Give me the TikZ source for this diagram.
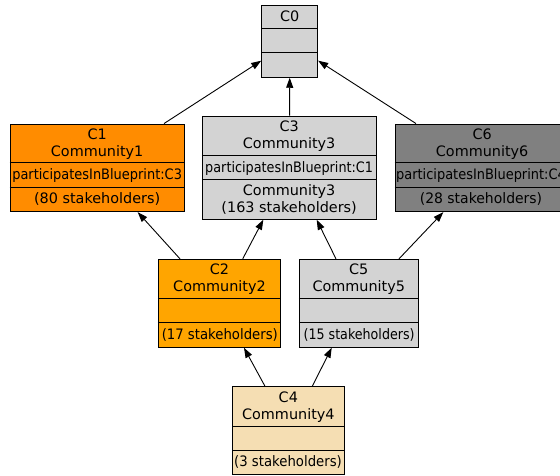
\documentclass[tikz,border=0pt]{standalone}
\usepackage{fontspec}
\usepackage{graphicx}
\setmainfont{DejaVu Sans}
\usetikzlibrary{arrows.meta}
\definecolor{cDarkOrange}{RGB}{255,140,0}
\definecolor{cOrange}{RGB}{255,165,0}
\definecolor{cLight}{RGB}{211,211,211}
\definecolor{cGray}{RGB}{128,128,128}
\definecolor{cWheat}{RGB}{245,222,179}
\tikzset{
  rec/.style={draw=black, line width=0.9pt, rectangle, inner sep=0pt},
  txt/.style={anchor=base, inner sep=0pt, font=\fontsize{14.4}{17}\selectfont},
  divline/.style={draw=black, line width=0.9pt},
  edge/.style={draw=black, line width=0.9pt, -{Triangle[length=10pt,width=7pt]}}
}
\newcommand{\xs}[2]{\scalebox{#1}[1]{#2}}
\begin{document}
\begin{tikzpicture}[x=1pt,y=-1pt]
\useasboundingbox (0,0) rectangle (560,476);
\fill[white] (0,0) rectangle (560,476);
\clip (0,0) rectangle (560,476);

% record boxes
\node[rec, fill=cLight, minimum width=56pt, minimum height=72.3pt] (C0) at (289.7,41.15) {};
\node[rec, fill=cDarkOrange, minimum width=174.3pt, minimum height=87.7pt] (C1) at (97.15,167.85) {};
\node[rec, fill=cLight, minimum width=173.7pt, minimum height=103.3pt] (C3) at (289.15,167.65) {};
\node[rec, fill=cGray, minimum width=174.3pt, minimum height=87.7pt] (C6) at (482.15,167.85) {};
\node[rec, fill=cOrange, minimum width=122.4pt, minimum height=88pt] (C2) at (219.5,303.3) {};
\node[rec, fill=cLight, minimum width=119pt, minimum height=88pt] (C5) at (358.8,303.3) {};
\node[rec, fill=cWheat, minimum width=111.3pt, minimum height=88pt] (C4) at (288.35,430.7) {};

% dividers
\foreach \n/\a/\b in {C0/24.3/48.3, C1/39.3/63.7, C3/39.7/64, C6/39.3/63.7, C2/39.7/63.4, C5/39.7/63.4, C4/40/64}{
  \draw[divline] ([yshift=-\a pt]\n.north west) -- ([yshift=-\a pt]\n.north east);
  \draw[divline] ([yshift=-\b pt]\n.north west) -- ([yshift=-\b pt]\n.north east);
}

% texts
\node[txt] (t0a) at (289.7,21.35) {C0};

\node[txt] (t1a) at (97.15,139.45) {C1};
\node[txt] (t1b) at (97.15,156.25) {Community1};
\node[txt] (t1c) at (97.15,179.7) {\xs{0.90}{participatesInBlueprint:C3}};
\node[txt] (t1d) at (97.15,203.9) {(80 stakeholders)};

\node[txt] (t3a) at (289.15,131.65) {C3};
\node[txt] (t3b) at (289.15,148.45) {Community3};
\node[txt] (t3c) at (289.15,172.05) {\xs{0.89}{participatesInBlueprint:C1}};
\node[txt] (t3d) at (289.15,195.45) {Community3};
\node[txt] (t3e) at (289.15,212.25) {(163 stakeholders)};

\node[txt] (t6a) at (482.15,139.45) {C6};
\node[txt] (t6b) at (482.15,156.25) {Community6};
\node[txt] (t6c) at (481,179.7) {\xs{0.90}{participatesInBlueprint:C4}};
\node[txt] (t6d) at (481,203.9) {\xs{0.97}{(28 stakeholders)}};

\node[txt] (t2a) at (219.5,274.95) {C2};
\node[txt] (t2b) at (219.5,291.75) {Community2};
\node[txt] (t2c) at (219.8,339.2) {\xs{0.92}{(17 stakeholders)}};

\node[txt] (t5a) at (358.8,274.95) {C5};
\node[txt] (t5b) at (358.8,291.75) {Community5};
\node[txt] (t5c) at (359.1,339.2) {\xs{0.88}{(15 stakeholders)}};

\node[txt] (t4a) at (288.35,402.5) {C4};
\node[txt] (t4b) at (288.35,419.3) {Community4};
\node[txt] (t4c) at (288,466.9) {\xs{0.92}{(3 stakeholders)}};

% connectors
\draw[edge] ([xshift=66.85pt]C1.north) -- ([yshift=-19.55pt]C0.west);
\draw[edge] ([xshift=0.5pt]C3.north) -- (C0.south);
\draw[edge] ([xshift=-66.15pt]C6.north) -- ([yshift=-19.55pt]C0.east);
\draw[edge] ([xshift=-39.5pt]C2.north) -- ([xshift=40.55pt]C1.south);
\draw[edge] ([xshift=23.2pt]C2.north) -- ([xshift=-25.85pt]C3.south);
\draw[edge] ([xshift=-22.8pt]C5.north) -- ([xshift=27.55pt]C3.south);
\draw[edge] ([xshift=40.2pt]C5.north) -- ([xshift=-38.85pt]C6.south);
\draw[edge] ([xshift=-23.35pt]C4.north) -- ([xshift=24.5pt]C2.south);
\draw[edge] ([xshift=23.95pt]C4.north) -- ([xshift=-27.1pt]C5.south);
\end{tikzpicture}
\end{document}
